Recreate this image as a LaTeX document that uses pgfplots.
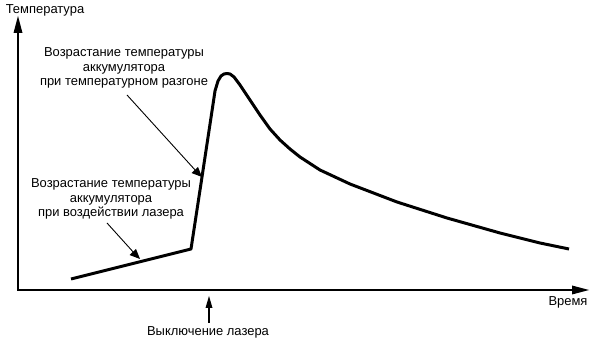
\documentclass[border=0pt]{standalone}
\usepackage{pgfplots}
\pgfplotsset{compat=1.18}
\usepackage{fontspec}
\setmainfont{Liberation Sans}
\begin{document}
\begin{tikzpicture}
\begin{axis}[
  scale only axis, width=591bp, height=339bp,
  xmin=0, xmax=591, ymin=0, ymax=339,
  hide axis, clip=false,
]
\path[use as bounding box] (axis cs:0,0) rectangle (axis cs:591,339);
% axes
\draw[line width=2pt] (axis cs:18,48.5) -- (axis cs:18,310);
\draw[line width=2pt] (axis cs:17,49) -- (axis cs:576,49);
\fill[black] (axis cs:18,323) -- (axis cs:13.5,306) -- (axis cs:22.5,306) -- cycle;
\fill[black] (axis cs:589,49) -- (axis cs:572,44.5) -- (axis cs:572,53.5) -- cycle;
% curve
\addplot[black, line width=3pt, line join=round] coordinates {
(71,60) (191,90) (202,162) (212,228) (215,248) (218,258) (221,263) (224,265) (227,265.5) (230,265) (234,262) (240,254)
(250,239) (260,224) (270,210) (280,199) (290,190) (300,182) (320,169) (350,155) (397,137) (447,121) (500,106) (540,96) (569,90)};
% labels
\node[font=\fontsize{13}{14.5}\selectfont] at (axis cs:45,329) {Температура};
\node[font=\fontsize{13}{14.5}\selectfont] at (axis cs:568,37) {Время};
\node[font=\fontsize{13}{14.5}\selectfont] at (axis cs:208,7) {Выключение лазера};
\node[font=\fontsize{13}{14.5}\selectfont, align=center] at (axis cs:124,271) {Возрастание температуры\\аккумулятора\\при температурном разгоне};
\node[font=\fontsize{13}{14.5}\selectfont, align=center] at (axis cs:111,140) {Возрастание температуры\\аккумулятора\\при воздействии лазера};
% annotation arrows
\draw[line width=0.9pt] (axis cs:127,244) -- (axis cs:196,168);
\fill[black] (axis cs:202,162) -- (axis cs:191.5,166) -- (axis cs:198,172) -- cycle;
\draw[line width=0.9pt] (axis cs:107,116) -- (axis cs:135,85);
\fill[black] (axis cs:140,80) -- (axis cs:129.5,84) -- (axis cs:136,90) -- cycle;
\draw[line width=1.1pt] (axis cs:209,16) -- (axis cs:209,34);
\fill[black] (axis cs:209,43) -- (axis cs:205.5,31) -- (axis cs:212.5,31) -- cycle;
\end{axis}
\end{tikzpicture}
\end{document}
